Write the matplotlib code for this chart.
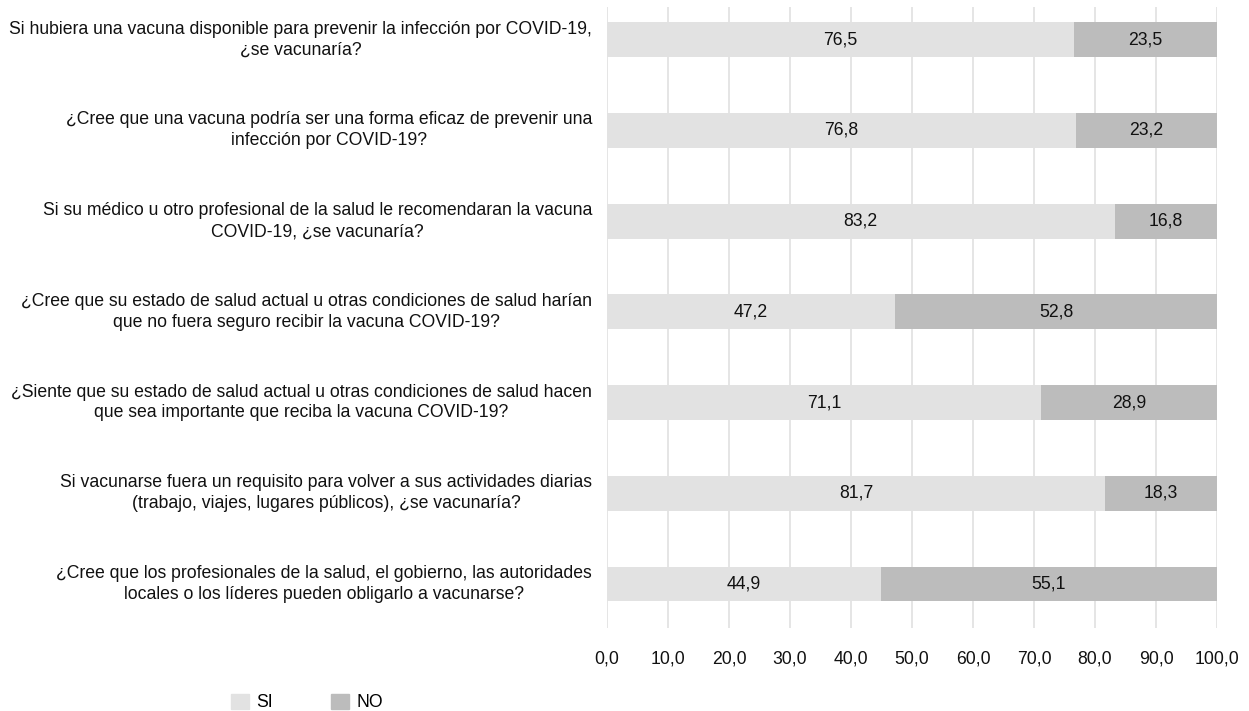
import numpy as np
import matplotlib.pyplot as plt
from matplotlib.patches import Patch

plt.rcParams['font.family'] = ['Liberation Sans', 'DejaVu Sans']

preguntas = [
    "Si hubiera una vacuna disponible para prevenir la infección por COVID-19,\n¿se vacunaría?",
    "¿Cree que una vacuna podría ser una forma eficaz de prevenir una\ninfección por COVID-19?",
    "Si su médico u otro profesional de la salud le recomendaran la vacuna\nCOVID-19, ¿se vacunaría?",
    "¿Cree que su estado de salud actual u otras condiciones de salud harían\nque no fuera seguro recibir la vacuna COVID-19?",
    "¿Siente que su estado de salud actual u otras condiciones de salud hacen\nque sea importante que reciba la vacuna COVID-19?",
    "Si vacunarse fuera un requisito para volver a sus actividades diarias\n(trabajo, viajes, lugares públicos), ¿se vacunaría?",
    "¿Cree que los profesionales de la salud, el gobierno, las autoridades\nlocales o los líderes pueden obligarlo a vacunarse?",
]
si = [76.5, 76.8, 83.2, 47.2, 71.1, 81.7, 44.9]
no = [23.5, 23.2, 16.8, 52.8, 28.9, 18.3, 55.1]
xticks = np.arange(0, 101, 10)

c_si = "#e2e2e2"
c_no = "#bcbcbc"
fs = 12.7
tc = "#111111"

fig = plt.figure(figsize=(12.49, 7.11), dpi=100)
ax = fig.add_axes([0.486, 0.1167, 0.4884, 0.8733])

y = np.arange(len(preguntas))
h = 0.385
ax.barh(y, si, height=h, color=c_si, zorder=2)
ax.barh(y, no, left=si, height=h, color=c_no, zorder=2)

for i in range(len(y)):
    ax.text(si[i] / 2, y[i], f"{si[i]:.1f}".replace(".", ","), ha="center", va="center", fontsize=fs, color=tc, zorder=3)
    ax.text(si[i] + no[i] / 2, y[i], f"{no[i]:.1f}".replace(".", ","), ha="center", va="center", fontsize=fs, color=tc, zorder=3)

ax.set_xlim(0, 100)
ax.set_ylim(len(y) - 1 + 0.485, -0.358)
ax.set_xticks(xticks)
ax.set_xticklabels([f"{t:.1f}".replace(".", ",") for t in xticks], fontsize=fs, color=tc)
ax.set_yticks(y)
ax.set_yticklabels(preguntas, fontsize=fs, color=tc, ha="center", va="center",
                   multialignment="center", linespacing=1.3)
ax.tick_params(axis="y", length=0, pad=0)
ax.tick_params(axis="x", length=0, pad=16)
ax.xaxis.grid(True, color="#e0e0e0", linewidth=1.2, zorder=0)
ax.set_axisbelow(True)
for s in ax.spines.values():
    s.set_visible(False)

# center the y labels on the block whose right edge is near the axes
fig.canvas.draw()
r = fig.canvas.get_renderer()
for lab in ax.get_yticklabels():
    bb = lab.get_window_extent(r)
    lab.set_x(-(bb.width / 2 + 15) / (ax.bbox.width))

handles = [Patch(color=c_si, label="SI"), Patch(color=c_no, label="NO")]
fig.legend(handles=handles, loc="center", bbox_to_anchor=(0.246, 0.012), ncol=2, frameon=False,
           fontsize=fs, handlelength=1.0, handleheight=1.0, columnspacing=3.3, handletextpad=0.45)

fig.savefig("out.png", dpi=100)
